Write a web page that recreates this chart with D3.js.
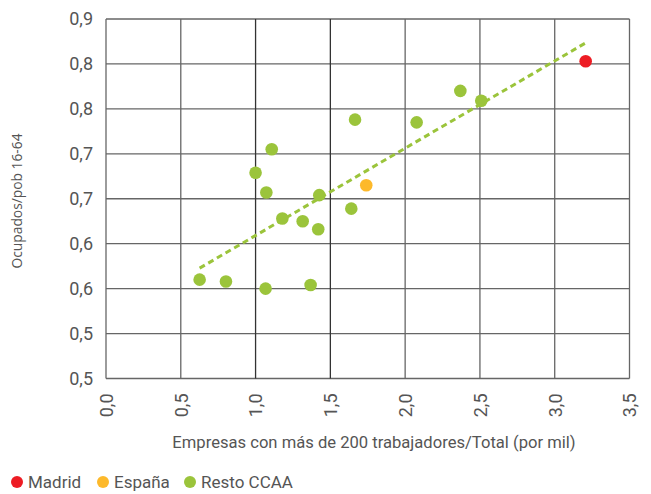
<!DOCTYPE html>
<html>
<head>
<meta charset="utf-8">
<script src="https://cdn.jsdelivr.net/npm/d3@7"></script>
<style>
  html, body { margin: 0; padding: 0; background: #fff; }
  svg { display: block; }
</style>
</head>
<body>
<svg id="chart" width="651" height="494"></svg>
<script>
// Regional data: large firms per thousand (x) vs employment rate 16-64 (y)
const madrid = [{ x: 3.207, y: 0.853 }];
const espana = [{ x: 1.740, y: 0.715 }];
const resto = [
  { x: 1.108, y: 0.755 },
  { x: 1.000, y: 0.729 },
  { x: 1.072, y: 0.707 },
  { x: 1.179, y: 0.678 },
  { x: 1.315, y: 0.675 },
  { x: 1.419, y: 0.666 },
  { x: 1.426, y: 0.704 },
  { x: 1.665, y: 0.788 },
  { x: 2.077, y: 0.785 },
  { x: 2.369, y: 0.820 },
  { x: 2.509, y: 0.809 },
  { x: 1.640, y: 0.689 },
  { x: 0.626, y: 0.610 },
  { x: 0.802, y: 0.608 },
  { x: 1.067, y: 0.600 },
  { x: 1.368, y: 0.604 }
];

const xTicks = [0, 0.5, 1.0, 1.5, 2.0, 2.5, 3.0, 3.5];
const xTickLabels = ["0,0", "0,5", "1,0", "1,5", "2,0", "2,5", "3,0", "3,5"];
const yTicks = [0.5, 0.55, 0.6, 0.65, 0.7, 0.75, 0.8, 0.85, 0.9];
const yTickLabels = ["0,5", "0,5", "0,6", "0,6", "0,7", "0,7", "0,8", "0,8", "0,9"];

const seriesNames = ["Madrid", "España", "Resto CCAA"];
const seriesColors = ["#ED1C24", "#FDB92B", "#9BC43B"];

const svg = d3.select("#chart");
const margin = { left: 106, right: 21.5, top: 19, bottom: 115.5 };
const W = 651, H = 494;

const x = d3.scaleLinear().domain([0, 3.5]).range([margin.left, W - margin.right]);
const y = d3.scaleLinear().domain([0.5, 0.9]).range([H - margin.bottom, margin.top]);

const textColor = "#555";
const gridColor = "#666";

// Grid
const g = svg.append("g");
g.selectAll("line.h").data(yTicks).join("line")
  .attr("x1", x(0)).attr("x2", x(3.5))
  .attr("y1", d => y(d)).attr("y2", d => y(d))
  .attr("stroke", gridColor).attr("stroke-width", 1.3);
g.selectAll("line.v").data(xTicks).join("line")
  .attr("y1", y(0.5)).attr("y2", y(0.9))
  .attr("x1", d => x(d)).attr("x2", d => x(d))
  .attr("stroke", d => (d === 1.0 || d === 1.5) ? "#333" : gridColor)
  .attr("stroke-width", 1.3);

// Y axis labels
const yAxis = d3.axisLeft(y).tickValues(yTicks)
  .tickFormat((d, i) => yTickLabels[i]).tickSize(0).tickPadding(13);
svg.append("g").attr("transform", `translate(${x(0)},0)`).call(yAxis)
  .call(s => s.select(".domain").remove())
  .selectAll("text")
  .attr("font-family", "Roboto").attr("font-size", 18).attr("fill", textColor);

// X axis labels, rotated
const xAxis = d3.axisBottom(x).tickValues(xTicks)
  .tickFormat((d, i) => xTickLabels[i]).tickSize(0);
svg.append("g").attr("transform", `translate(0,${y(0.5)})`).call(xAxis)
  .call(s => s.select(".domain").remove())
  .selectAll("text")
  .attr("font-family", "Roboto").attr("font-size", 18).attr("fill", textColor)
  .attr("transform", "rotate(-90)")
  .attr("text-anchor", "end")
  .attr("x", -15).attr("y", 0).attr("dy", "0.35em");

// Axis titles
svg.append("text")
  .attr("x", 374).attr("y", 448)
  .attr("text-anchor", "middle")
  .attr("font-family", "Roboto").attr("font-size", 16.6).attr("fill", textColor)
  .text("Empresas con más de 200 trabajadores/Total (por mil)");

svg.append("text")
  .attr("transform", `translate(22,${201}) rotate(-90)`)
  .attr("text-anchor", "middle")
  .attr("font-family", "Open Sans").attr("font-size", 13.8).attr("fill", textColor)
  .text("Ocupados/pob 16-64");

// Linear trend over all regions
const all = madrid.concat(espana, resto);
const mx = d3.mean(all, d => d.x), my = d3.mean(all, d => d.y);
const slope = d3.sum(all, d => (d.x - mx) * (d.y - my)) / d3.sum(all, d => (d.x - mx) ** 2);
const icpt = my - slope * mx;
const [xmin, xmax] = d3.extent(all, d => d.x);
const trend = [xmin, xmax].map(v => ({ x: v, y: icpt + slope * v }));
svg.append("path")
  .datum(trend)
  .attr("d", d3.line().x(d => x(d.x)).y(d => y(d.y)))
  .attr("fill", "none").attr("stroke", seriesColors[2])
  .attr("stroke-width", 3).attr("stroke-dasharray", "6,4");

// Points
const groups = [madrid, espana, resto];
groups.forEach((data, i) => {
  svg.append("g").selectAll("circle").data(data).join("circle")
    .attr("cx", d => x(d.x)).attr("cy", d => y(d.y)).attr("r", 6.3)
    .attr("fill", seriesColors[i]);
});

// Legend
const legendX = [17, 103, 190];
const lg = svg.append("g");
seriesNames.forEach((name, i) => {
  lg.append("circle").attr("cx", legendX[i]).attr("cy", 482).attr("r", 6)
    .attr("fill", seriesColors[i]);
  lg.append("text").attr("x", legendX[i] + 11).attr("y", 488)
    .attr("font-family", "Roboto").attr("font-size", 17).attr("fill", textColor)
    .text(name);
});
</script>
</body>
</html>
